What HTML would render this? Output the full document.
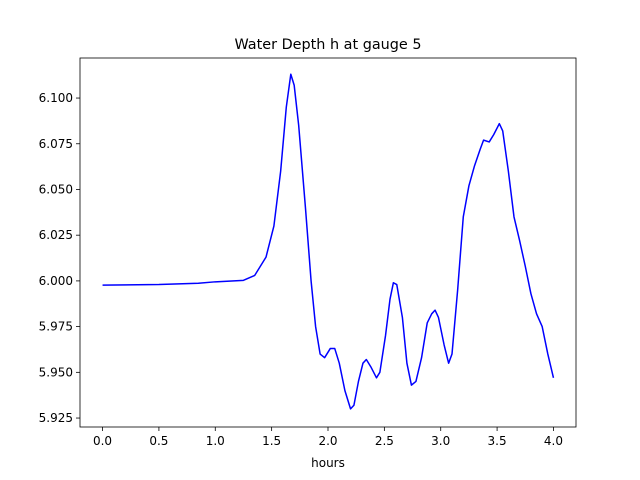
<!DOCTYPE html>
<html><head><meta charset="utf-8"><style>body{margin:0;background:#fff}svg{display:block;font-family:"DejaVu Sans","Liberation Sans",sans-serif}</style></head>
<body>
<svg id="c" width="640" height="480"></svg>
<script>
const times=[0,0.5,0.85,1.0,1.25,1.35,1.45,1.52,1.58,1.63,1.67,1.70,1.74,1.80,1.85,1.89,1.93,1.97,2.02,2.06,2.10,2.15,2.20,2.23,2.27,2.31,2.34,2.38,2.43,2.46,2.51,2.55,2.58,2.61,2.66,2.70,2.74,2.78,2.83,2.88,2.92,2.95,2.98,3.03,3.07,3.10,3.15,3.20,3.25,3.30,3.35,3.38,3.43,3.47,3.52,3.55,3.60,3.65,3.70,3.75,3.80,3.85,3.90,3.95,4.0];
const depths=[5.9977,5.998,5.9987,5.9995,6.0003,6.003,6.013,6.030,6.060,6.095,6.113,6.107,6.085,6.040,6.000,5.975,5.960,5.958,5.963,5.963,5.955,5.940,5.930,5.932,5.945,5.955,5.957,5.953,5.947,5.950,5.970,5.990,5.999,5.998,5.980,5.955,5.943,5.945,5.958,5.977,5.982,5.984,5.980,5.965,5.955,5.960,5.995,6.035,6.052,6.063,6.072,6.077,6.076,6.080,6.086,6.082,6.060,6.035,6.022,6.008,5.993,5.982,5.975,5.960,5.947];
const xTicks=[0,0.5,1.0,1.5,2.0,2.5,3.0,3.5,4.0];
const xTickLabels=["0.0","0.5","1.0","1.5","2.0","2.5","3.0","3.5","4.0"];
const yTicks=[5.925,5.950,5.975,6.000,6.025,6.050,6.075,6.100];
const yTickLabels=["5.925","5.950","5.975","6.000","6.025","6.050","6.075","6.100"];
const L=80,R=576,T=58,B=427;
const x=v=>L+(v+0.2)/4.4*(R-L);
const y=v=>B-(v-5.9201)/(6.1219-5.9201)*(B-T);
const s=document.getElementById('c');const NS='http://www.w3.org/2000/svg';
function mk(t,a,p){const e=document.createElementNS(NS,t);for(const k in a)e.setAttribute(k,a[k]);(p||s).appendChild(e);return e;}
const t=mk('text',{x:328,y:49,'text-anchor':'middle','font-size':14.4});t.textContent='Water Depth h at gauge 5';


xTicks.forEach((v,i)=>{const g=mk('g',{});


mk('line',{x1:x(v),x2:x(v),y1:B,y2:B+4,stroke:'#000','stroke-width':0.8},g);
const tx=mk('text',{x:x(v),y:B+18,'text-anchor':'middle','font-size':12},g);tx.textContent=xTickLabels[i];});
yTicks.forEach((v,i)=>{const g=mk('g',{});


mk('line',{x1:L-4,x2:L,y1:y(v),y2:y(v),stroke:'#000','stroke-width':0.8},g);
const tx=mk('text',{x:L-7,y:y(v)+4,'text-anchor':'end','font-size':12},g);tx.textContent=yTickLabels[i];});
const xl=mk('text',{x:328,y:467,'text-anchor':'middle','font-size':12});xl.textContent='hours';


const ln=mk('polyline',{points:times.map((v,i)=>x(v)+','+y(depths[i])).join(' '),fill:'none',stroke:'#0000ff','stroke-width':1.5,'stroke-linejoin':'round'});


const fr=mk('rect',{x:L,y:T,width:R-L,height:B-T,fill:'none',stroke:'#000','stroke-width':0.8});


</script>
</body></html>
